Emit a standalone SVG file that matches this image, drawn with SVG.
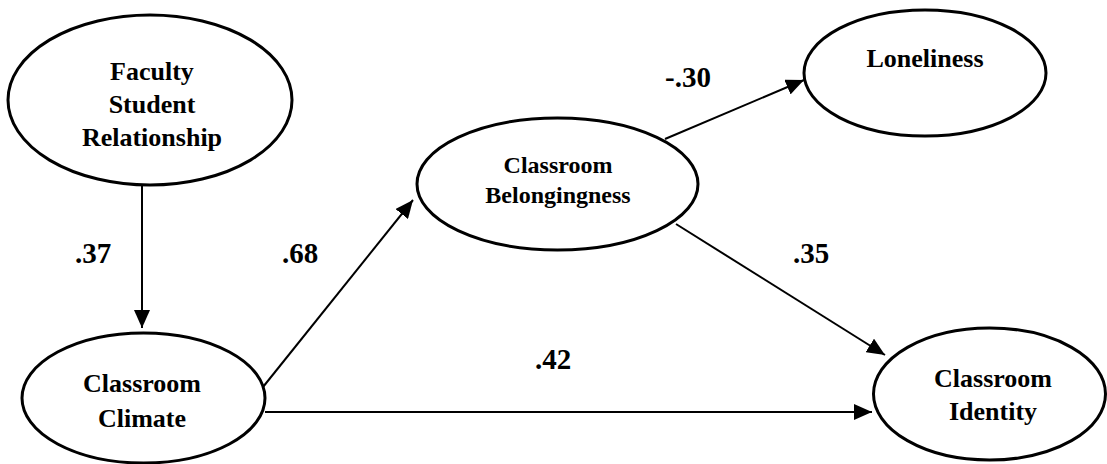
<svg xmlns="http://www.w3.org/2000/svg" width="1107" height="464" viewBox="0 0 1107 464" font-family="Liberation Serif, serif" font-weight="bold">
<style>
.node ellipse{fill:#fff;stroke:#000;stroke-width:3}
.node text{font-size:26px;text-anchor:middle;fill:#000}
.node text.sm{font-size:24px}
.edges line{stroke:#000;stroke-width:2;marker-end:url(#ah)}
.lbl{font-size:29px;fill:#000}
</style>
<defs>
<marker id="ah" markerUnits="userSpaceOnUse" markerWidth="18" markerHeight="16" viewBox="0 0 18 16" refX="18" refY="8" orient="auto">
<path d="M0,0 L18,8 L0,16 Z" fill="#000"/>
</marker>
</defs>
<rect width="1107" height="464" fill="#fff"/>
<g class="edges">
<line x1="142" y1="186" x2="142" y2="328"/>
<line x1="263" y1="387" x2="413" y2="200"/>
<line x1="665" y1="139" x2="804" y2="80"/>
<line x1="676" y1="224" x2="885" y2="355"/>
<line x1="265" y1="412" x2="872" y2="412"/>
</g>
<g id="faculty" class="node">
<ellipse cx="150" cy="100" rx="142" ry="85"/>
<text x="152" y="80" font-family="Liberation Serif">Faculty</text>
<text x="152" y="113" font-family="Liberation Serif">Student</text>
<text x="152" y="146" font-family="Liberation Serif">Relationship</text>
</g>
<g id="climate" class="node">
<ellipse cx="143.5" cy="398" rx="121.5" ry="65"/>
<text x="142" y="392" font-family="Liberation Serif">Classroom</text>
<text x="142" y="427" font-family="Liberation Serif">Climate</text>
</g>
<g id="belong" class="node">
<ellipse cx="557.5" cy="184" rx="140.5" ry="66"/>
<text class="sm" x="558" y="173" font-family="Liberation Serif">Classroom</text>
<text class="sm" x="558" y="203" font-family="Liberation Serif">Belongingness</text>
</g>
<g id="lonely" class="node">
<ellipse cx="925" cy="73" rx="121" ry="63"/>
<text x="925" y="67" font-family="Liberation Serif">Loneliness</text>
</g>
<g id="identity" class="node">
<ellipse cx="989.5" cy="394" rx="116" ry="66"/>
<text x="993" y="387" font-family="Liberation Serif">Classroom</text>
<text x="993" y="420" font-family="Liberation Serif">Identity</text>
</g>
<g id="labels">
<text class="lbl" x="75" y="263" font-family="Liberation Serif">.37</text>
<text class="lbl" x="282" y="263" font-family="Liberation Serif">.68</text>
<text class="lbl" x="665" y="87" font-family="Liberation Serif">-.30</text>
<text class="lbl" x="793" y="263" font-family="Liberation Serif">.35</text>
<text class="lbl" x="535" y="369" font-family="Liberation Serif">.42</text>
</g>
</svg>
